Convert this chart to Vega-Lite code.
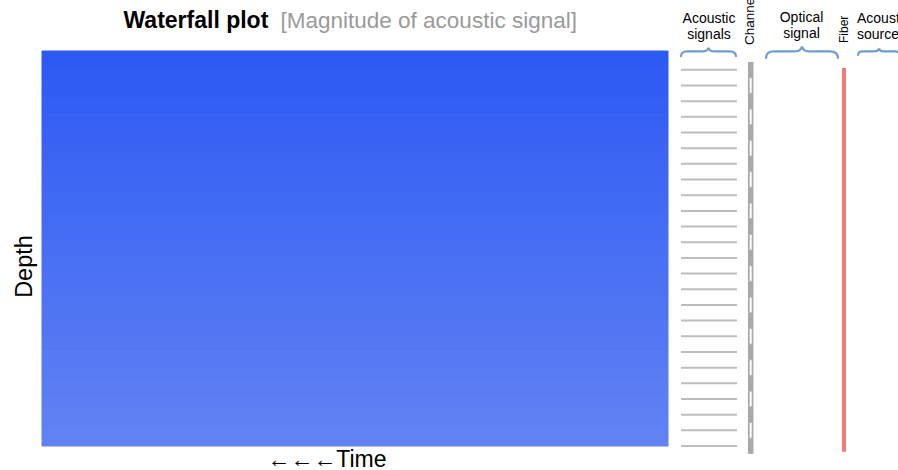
{
  "$schema": "https://vega.github.io/schema/vega-lite/v6.json",
  "background": "white",
  "padding": {"left": 12, "top": -6, "right": 0, "bottom": 0},
  "bounds": "flush",
  "spacing": 0,
  "config": {"view": {"stroke": null}, "font": "Liberation Sans"},
  "datasets": {
    "waterfall": [
      {"depth_top": 0, "depth_bottom": 1, "magnitude": 0.98},
      {"depth_top": 1, "depth_bottom": 2, "magnitude": 0.94},
      {"depth_top": 2, "depth_bottom": 3, "magnitude": 0.90},
      {"depth_top": 3, "depth_bottom": 4, "magnitude": 0.86},
      {"depth_top": 4, "depth_bottom": 5, "magnitude": 0.82},
      {"depth_top": 5, "depth_bottom": 6, "magnitude": 0.78},
      {"depth_top": 6, "depth_bottom": 7, "magnitude": 0.74},
      {"depth_top": 7, "depth_bottom": 8, "magnitude": 0.70},
      {"depth_top": 8, "depth_bottom": 9, "magnitude": 0.66},
      {"depth_top": 9, "depth_bottom": 10, "magnitude": 0.62},
      {"depth_top": 10, "depth_bottom": 11, "magnitude": 0.58},
      {"depth_top": 11, "depth_bottom": 12, "magnitude": 0.54},
      {"depth_top": 12, "depth_bottom": 13, "magnitude": 0.50},
      {"depth_top": 13, "depth_bottom": 14, "magnitude": 0.46},
      {"depth_top": 14, "depth_bottom": 15, "magnitude": 0.42},
      {"depth_top": 15, "depth_bottom": 16, "magnitude": 0.38},
      {"depth_top": 16, "depth_bottom": 17, "magnitude": 0.34},
      {"depth_top": 17, "depth_bottom": 18, "magnitude": 0.30},
      {"depth_top": 18, "depth_bottom": 19, "magnitude": 0.26},
      {"depth_top": 19, "depth_bottom": 20, "magnitude": 0.22},
      {"depth_top": 20, "depth_bottom": 21, "magnitude": 0.18},
      {"depth_top": 21, "depth_bottom": 22, "magnitude": 0.14},
      {"depth_top": 22, "depth_bottom": 23, "magnitude": 0.10},
      {"depth_top": 23, "depth_bottom": 24, "magnitude": 0.06},
      {"depth_top": 24, "depth_bottom": 25, "magnitude": 0.02}
    ],
    "channels": [
      {"channel": 1, "start": 0.5, "end": 1.5, "segment": "gray"},
      {"channel": 2, "start": 1.5, "end": 2.5, "segment": "white"},
      {"channel": 3, "start": 2.5, "end": 3.5, "segment": "gray"},
      {"channel": 4, "start": 3.5, "end": 4.5, "segment": "white"},
      {"channel": 5, "start": 4.5, "end": 5.5, "segment": "gray"},
      {"channel": 6, "start": 5.5, "end": 6.5, "segment": "white"},
      {"channel": 7, "start": 6.5, "end": 7.5, "segment": "gray"},
      {"channel": 8, "start": 7.5, "end": 8.5, "segment": "white"},
      {"channel": 9, "start": 8.5, "end": 9.5, "segment": "gray"},
      {"channel": 10, "start": 9.5, "end": 10.5, "segment": "white"},
      {"channel": 11, "start": 10.5, "end": 11.5, "segment": "gray"},
      {"channel": 12, "start": 11.5, "end": 12.5, "segment": "white"},
      {"channel": 13, "start": 12.5, "end": 13.5, "segment": "gray"},
      {"channel": 14, "start": 13.5, "end": 14.5, "segment": "white"},
      {"channel": 15, "start": 14.5, "end": 15.5, "segment": "gray"},
      {"channel": 16, "start": 15.5, "end": 16.5, "segment": "white"},
      {"channel": 17, "start": 16.5, "end": 17.5, "segment": "gray"},
      {"channel": 18, "start": 17.5, "end": 18.5, "segment": "white"},
      {"channel": 19, "start": 18.5, "end": 19.5, "segment": "gray"},
      {"channel": 20, "start": 19.5, "end": 20.5, "segment": "white"},
      {"channel": 21, "start": 20.5, "end": 21.5, "segment": "gray"},
      {"channel": 22, "start": 21.5, "end": 22.5, "segment": "white"},
      {"channel": 23, "start": 22.5, "end": 23.5, "segment": "gray"},
      {"channel": 24, "start": 23.5, "end": 24.5, "segment": "white"},
      {"channel": 25, "start": 24.5, "end": 25.5, "segment": "gray"}
    ],
    "elements": [
      {"element": "acoustic_signals", "label": "Acoustic\nsignals"},
      {"element": "channel", "label": "Channel"},
      {"element": "optical_signal", "label": "Optical\nsignal"},
      {"element": "fiber", "label": "Fiber"},
      {"element": "acoustic_source", "label": "Acoustic\nsource"}
    ]
  },
  "hconcat": [
    {
      "width": 626,
      "height": 395,
      "layer": [
        {
          "data": {"name": "waterfall"},
          "mark": {"type": "rect", "strokeWidth": 1},
          "encoding": {
            "x": {"datum": 0, "type": "quantitative", "scale": {"domain": [0, 1], "nice": false, "zero": false},
              "axis": {"orient": "bottom", "labels": false, "ticks": false, "domain": false, "grid": false,
                "title": "←←←Time", "titleFontSize": 23, "titleFontWeight": "normal", "titleColor": "#000000",
                "titleFont": "Liberation Sans", "titleAlign": "right", "titleX": 344, "titleY": 20, "titleBaseline": "alphabetic"}},
            "x2": {"datum": 1},
            "y": {"field": "depth_top", "type": "quantitative", "scale": {"domain": [0, 25], "nice": false, "zero": false, "reverse": true},
              "axis": {"labels": false, "ticks": false, "domain": false, "grid": false, "title": "Depth",
                "titleFontSize": 23.5, "titleFontWeight": "normal", "titleColor": "#000000", "titleFont": "Liberation Sans",
                "titleAngle": 270, "titleAlign": "center", "titleBaseline": "alphabetic", "titleX": -10.5, "titleY": 215}},
            "y2": {"field": "depth_bottom"},
            "fill": {"field": "magnitude", "type": "quantitative", "scale": {"domain": [0, 1], "range": ["#6283f3", "#2d59f4"], "interpolate": "rgb"}, "legend": null},
            "stroke": {"field": "magnitude", "type": "quantitative", "scale": {"domain": [0, 1], "range": ["#6283f3", "#2d59f4"], "interpolate": "rgb"}, "legend": null}
          }
        },
        {
          "data": {"name": "waterfall"},
          "mark": {"type": "rule", "opacity": 0},
          "encoding": {
            "x": {"datum": 0, "type": "quantitative", "scale": {"domain": [0, 1]},
              "axis": {"orient": "top", "labels": false, "ticks": false, "domain": false, "grid": false,
                "title": "Waterfall plot", "titleFontSize": 23, "titleFontWeight": "bold", "titleColor": "#000000",
                "titleFont": "Liberation Sans", "titleAlign": "left", "titleX": 81, "titleY": -24, "titleBaseline": "alphabetic"}}
          }
        },
        {
          "data": {"name": "waterfall"},
          "mark": {"type": "rule", "opacity": 0},
          "encoding": {
            "x": {"datum": 0, "type": "quantitative", "scale": {"domain": [0, 1]},
              "axis": {"orient": "top", "labels": false, "ticks": false, "domain": false, "grid": false,
                "title": "[Magnitude of acoustic signal]", "titleFontSize": 22.5, "titleFontWeight": "normal", "titleColor": "#9a9a9a",
                "titleFont": "Liberation Sans", "titleAlign": "left", "titleX": 238, "titleY": -24, "titleBaseline": "alphabetic"}}
          }
        }
      ],
      "resolve": {"scale": {"x": "independent"}, "axis": {"x": "independent"}}
    },
    {
      "width": 231,
      "height": 395,
      "layer": [
        {
          "data": {"name": "channels"},
          "mark": {"type": "rule", "color": "#bdbdbd", "strokeWidth": 2},
          "encoding": {
            "x": {"datum": 13, "type": "quantitative", "scale": {"domain": [0, 231], "nice": false, "zero": false}, "axis": null},
            "x2": {"datum": 69},
            "y": {"field": "channel", "type": "quantitative", "scale": {"domain": [-0.2, 25], "nice": false, "zero": false, "reverse": true}, "axis": null}
          }
        },
        {
          "data": {"name": "channels"},
          "mark": {"type": "rule", "color": "#a9a9a9", "strokeWidth": 5.5, "strokeCap": "butt"},
          "encoding": {
            "x": {"datum": 82.7, "type": "quantitative", "scale": {"domain": [0, 231], "nice": false, "zero": false}, "axis": null},
            "y": {"field": "start", "type": "quantitative", "scale": {"domain": [-0.2, 25], "nice": false, "zero": false, "reverse": true}, "axis": null},
            "y2": {"field": "end"}
          }
        },
        {
          "data": {"name": "channels"},
          "transform": [{"filter": "datum.segment == 'white'"}],
          "mark": {"type": "rect", "fill": "#ffffff", "stroke": "#a9a9a9", "strokeWidth": 0.8},
          "encoding": {
            "x": {"datum": 81.3, "type": "quantitative", "scale": {"domain": [0, 231], "nice": false, "zero": false}, "axis": null},
            "x2": {"datum": 84.1},
            "y": {"field": "start", "type": "quantitative", "scale": {"domain": [-0.2, 25], "nice": false, "zero": false, "reverse": true}, "axis": null},
            "y2": {"field": "end"}
          }
        },
        {
          "data": {"name": "elements"},
          "transform": [{"filter": "datum.element == 'fiber'"}],
          "mark": {"type": "rule", "color": "#f27d77", "strokeWidth": 4, "strokeCap": "butt"},
          "encoding": {
            "x": {"datum": 176, "type": "quantitative", "scale": {"domain": [0, 231], "nice": false, "zero": false}, "axis": null},
            "y": {"datum": 0.88, "type": "quantitative", "scale": {"domain": [-0.2, 25], "nice": false, "zero": false, "reverse": true}, "axis": null},
            "y2": {"datum": 25.37}
          }
        },
        {
          "data": {"name": "elements"},
          "transform": [{"filter": "datum.element == 'acoustic_signals'"}],
          "mark": {"type": "point", "shape": "M -1 0.2 C -1 0.06 -0.93 0 -0.78 0 L -0.22 0 C -0.08 0 -0.02 -0.05 0 -0.14 C 0.02 -0.05 0.08 0 0.22 0 L 0.78 0 C 0.93 0 1 0.06 1 0.2", "size": 3025, "filled": false, "opacity": 1, "color": "#6f9cd5", "strokeWidth": 2.2},
          "encoding": {
            "x": {"datum": 40.5, "type": "quantitative", "scale": {"domain": [0, 231], "nice": false, "zero": false}, "axis": null},
            "y": {"datum": -0.17, "type": "quantitative", "scale": {"domain": [-0.2, 25], "nice": false, "zero": false, "reverse": true}, "axis": null}
          }
        },
        {
          "data": {"name": "elements"},
          "transform": [{"filter": "datum.element == 'optical_signal'"}],
          "mark": {"type": "point", "shape": "M -1 0.2 C -1 0.06 -0.93 0 -0.78 0 L -0.22 0 C -0.08 0 -0.02 -0.05 0 -0.14 C 0.02 -0.05 0.08 0 0.22 0 L 0.78 0 C 0.93 0 1 0.06 1 0.2", "size": 5184, "filled": false, "opacity": 1, "color": "#6f9cd5", "strokeWidth": 2.2},
          "encoding": {
            "x": {"datum": 134, "type": "quantitative", "scale": {"domain": [0, 231], "nice": false, "zero": false}, "axis": null},
            "y": {"datum": -0.17, "type": "quantitative", "scale": {"domain": [-0.2, 25], "nice": false, "zero": false, "reverse": true}, "axis": null}
          }
        },
        {
          "data": {"name": "elements"},
          "transform": [{"filter": "datum.element == 'acoustic_source'"}],
          "mark": {"type": "point", "shape": "M -1 0.2 C -1 0.06 -0.93 0 -0.78 0 L -0.22 0 C -0.08 0 -0.02 -0.05 0 -0.14 C 0.02 -0.05 0.08 0 0.22 0 L 0.78 0 C 0.93 0 1 0.06 1 0.2", "size": 1764, "filled": false, "opacity": 1, "color": "#6f9cd5", "strokeWidth": 2.2},
          "encoding": {
            "x": {"datum": 211, "type": "quantitative", "scale": {"domain": [0, 231], "nice": false, "zero": false}, "axis": null},
            "y": {"datum": -0.17, "type": "quantitative", "scale": {"domain": [-0.2, 25], "nice": false, "zero": false, "reverse": true}, "axis": null}
          }
        },
        {
          "data": {"name": "elements"},
          "transform": [{"filter": "datum.element == 'acoustic_signals'"}],
          "mark": {"type": "text", "align": "center", "baseline": "alphabetic", "fontSize": 14, "lineHeight": 16, "lineBreak": "\n", "color": "#000000"},
          "encoding": {
            "x": {"datum": 41, "type": "quantitative", "scale": {"domain": [0, 231], "nice": false, "zero": false}, "axis": null},
            "y": {"datum": -1.99, "type": "quantitative", "scale": {"domain": [-0.2, 25], "nice": false, "zero": false, "reverse": true}, "axis": null},
            "text": {"field": "label"}
          }
        },
        {
          "data": {"name": "elements"},
          "transform": [{"filter": "datum.element == 'optical_signal'"}],
          "mark": {"type": "text", "align": "center", "baseline": "alphabetic", "fontSize": 14, "lineHeight": 16, "lineBreak": "\n", "color": "#000000"},
          "encoding": {
            "x": {"datum": 133.5, "type": "quantitative", "scale": {"domain": [0, 231], "nice": false, "zero": false}, "axis": null},
            "y": {"datum": -2.08, "type": "quantitative", "scale": {"domain": [-0.2, 25], "nice": false, "zero": false, "reverse": true}, "axis": null},
            "text": {"field": "label"}
          }
        },
        {
          "data": {"name": "elements"},
          "transform": [{"filter": "datum.element == 'acoustic_source'"}],
          "mark": {"type": "text", "align": "left", "baseline": "alphabetic", "fontSize": 14, "lineHeight": 16, "lineBreak": "\n", "color": "#000000", "limit": 43, "ellipsis": "\u200b"},
          "encoding": {
            "x": {"datum": 189, "type": "quantitative", "scale": {"domain": [0, 231], "nice": false, "zero": false}, "axis": null},
            "y": {"datum": -1.99, "type": "quantitative", "scale": {"domain": [-0.2, 25], "nice": false, "zero": false, "reverse": true}, "axis": null},
            "text": {"field": "label"}
          }
        },
        {
          "data": {"name": "elements"},
          "transform": [{"filter": "datum.element == 'channel'"}],
          "mark": {"type": "text", "align": "left", "baseline": "alphabetic", "angle": 270, "fontSize": 13.5, "color": "#000000"},
          "encoding": {
            "x": {"datum": 86, "type": "quantitative", "scale": {"domain": [0, 231], "nice": false, "zero": false}, "axis": null},
            "y": {"datum": -0.58, "type": "quantitative", "scale": {"domain": [-0.2, 25], "nice": false, "zero": false, "reverse": true}, "axis": null},
            "text": {"field": "label"}
          }
        },
        {
          "data": {"name": "elements"},
          "transform": [{"filter": "datum.element == 'fiber'"}],
          "mark": {"type": "text", "align": "left", "baseline": "alphabetic", "angle": 270, "fontSize": 12, "color": "#000000"},
          "encoding": {
            "x": {"datum": 180, "type": "quantitative", "scale": {"domain": [0, 231], "nice": false, "zero": false}, "axis": null},
            "y": {"datum": -0.71, "type": "quantitative", "scale": {"domain": [-0.2, 25], "nice": false, "zero": false, "reverse": true}, "axis": null},
            "text": {"field": "label"}
          }
        }
      ]
    }
  ]
}
